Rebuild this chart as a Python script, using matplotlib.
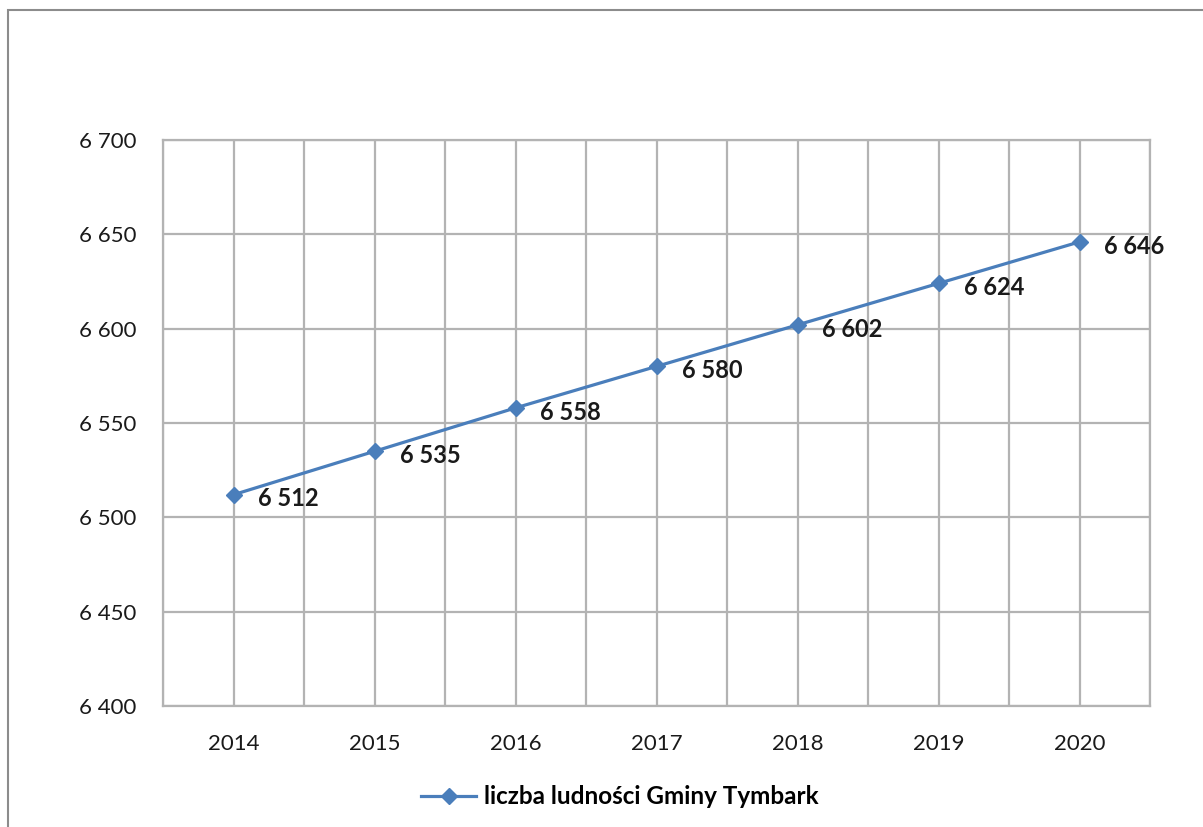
import matplotlib.pyplot as plt
from matplotlib.patches import Rectangle
from matplotlib.ticker import FuncFormatter, MultipleLocator

# Data
years = ['2014', '2015', '2016', '2017', '2018', '2019', '2020']
population = [6512, 6535, 6558, 6580, 6602, 6624, 6646]
y_ticks = [6400, 6450, 6500, 6550, 6600, 6650, 6700]

line_color = '#4A7EBB'
grid_color = '#B3B3B3'

plt.rcParams['font.family'] = ['Lato', 'DejaVu Sans']


def pl_format(v, pos=None):
    return f'{int(v):,}'.replace(',', ' ')


fig = plt.figure(figsize=(12.03, 8.27), dpi=100)
ax = fig.add_axes([163 / 1203, 1 - 706 / 827, (1150 - 163) / 1203, (706 - 140) / 827])

# outer chart border (cut off at right/bottom like the source)
fig.patches.append(Rectangle((8 / 1203, -0.1), 1.2, 1 - 10 / 827 + 0.1,
                             transform=fig.transFigure, fill=False,
                             edgecolor='#8C8C8C', linewidth=1.5))

x = list(range(len(years)))
ax.plot(x, population, color=line_color, linewidth=2.3, marker='D',
        markersize=8, label='liczba ludności Gminy Tymbark', zorder=3)

for xi, v in zip(x, population):
    ax.annotate(pl_format(v), (xi, v), xytext=(18, -3), textcoords='offset points',
                ha='left', va='center', fontsize=17, fontweight='bold', color='#1a1a1a')

ax.set_xlim(-0.5, len(years) - 0.5)
ax.set_ylim(y_ticks[0], y_ticks[-1])
ax.set_xticks(x)
ax.set_xticklabels(years)
ax.xaxis.set_minor_locator(MultipleLocator(1, offset=0.5))
ax.set_yticks(y_ticks)
ax.yaxis.set_major_formatter(FuncFormatter(pl_format))

ax.grid(True, which='both', color=grid_color, linewidth=1.6)
ax.set_axisbelow(True)
for s in ax.spines.values():
    s.set_color(grid_color)
    s.set_linewidth(1.6)

ax.tick_params(axis='both', which='both', length=0, labelsize=16, colors='#1a1a1a')
ax.tick_params(axis='x', pad=20)
ax.tick_params(axis='y', pad=19)

leg = ax.legend(loc='center', bbox_to_anchor=(0.5 - 37 / 987, -(797 - 706) / 566),
                frameon=False, prop={'size': 17.5, 'weight': 'bold'},
                handlelength=2.3, handletextpad=0.3)

fig.savefig('out.png', dpi=100)
